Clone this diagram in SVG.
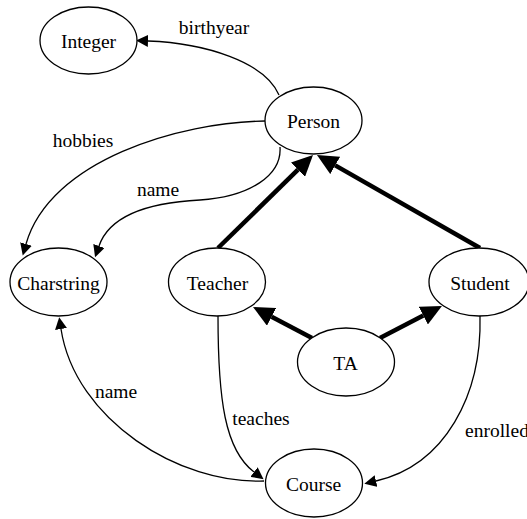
<svg xmlns="http://www.w3.org/2000/svg" width="527" height="519" viewBox="0 0 527 519" font-family="'Liberation Serif', 'DejaVu Serif', serif">
<style>
.node ellipse{fill:#fff;stroke:#000;stroke-width:1.3}
text{font-family:'Liberation Serif','DejaVu Serif',serif;font-size:19.5px;fill:#000;text-anchor:middle}
.e{fill:none;stroke:#000;stroke-width:1.3}
.b{fill:none;stroke:#000;stroke-width:4.5}
</style>
<defs>
<marker id="a" markerUnits="userSpaceOnUse" viewBox="0 0 13 12" markerWidth="13" markerHeight="12" refX="0" refY="6" orient="auto"><path d="M0,0 L12,6 L0,12 z" fill="#000"/></marker>
<marker id="ab" markerUnits="userSpaceOnUse" viewBox="0 0 22 20" markerWidth="22" markerHeight="20" refX="0" refY="10" orient="auto"><path d="M0,0 L21,10 L0,20 z" fill="#000"/></marker>
</defs>
<rect width="527" height="519" fill="#fff"/>
<g id="edges">
<path class="e" d="M279,95 C265,62 205,43 148,41" marker-end="url(#a)"/>
<text x="214" y="34" font-family="Liberation Serif, serif">birthyear</text>
<path class="e" d="M265,121 C180,122 50,160 26,244" marker-end="url(#a)"/>
<text x="83" y="147" font-family="Liberation Serif, serif">hobbies</text>
<path class="e" d="M280,147 C282,175 250,197 200,200 C140,203 108,220 99,246" marker-end="url(#a)"/>
<text x="158" y="196" font-family="Liberation Serif, serif">name</text>
<path class="b" d="M218,248 L298,169.7" marker-end="url(#ab)"/>
<path class="b" d="M480,248 L335.2,165.4" marker-end="url(#ab)"/>
<path class="b" d="M312,338 L271.6,316.8" marker-end="url(#ab)"/>
<path class="b" d="M380,338 L423.3,315.6" marker-end="url(#ab)"/>
<path class="e" d="M218,316 C218,400 225,450 254,472" marker-end="url(#a)"/>
<text x="261" y="425" font-family="Liberation Serif, serif">teaches</text>
<path class="e" d="M264,481 C180,485 75,420 61,329" marker-end="url(#a)"/>
<text x="116" y="398" font-family="Liberation Serif, serif">name</text>
<path class="e" d="M480,316 C482,395 445,465 376,481" marker-end="url(#a)"/>
<text x="465" y="437" font-family="Liberation Serif, serif" style="text-anchor:start">enrolled</text>
</g>
<g id="Integer" class="node"><ellipse cx="88.5" cy="40.5" rx="48.5" ry="33.5"/><text x="88.5" y="48" font-family="Liberation Serif, serif">Integer</text></g>
<g id="Person" class="node"><ellipse cx="313.5" cy="120.5" rx="48.5" ry="33.5"/><text x="313.5" y="128" font-family="Liberation Serif, serif">Person</text></g>
<g id="Charstring" class="node"><ellipse cx="58.5" cy="282" rx="48.5" ry="34"/><text x="58.5" y="289.5" font-family="Liberation Serif, serif">Charstring</text></g>
<g id="Teacher" class="node"><ellipse cx="217" cy="282" rx="48.5" ry="34"/><text x="217.5" y="289.5" font-family="Liberation Serif, serif">Teacher</text></g>
<g id="Student" class="node"><ellipse cx="479" cy="282" rx="50" ry="34"/><text x="480" y="289.5" font-family="Liberation Serif, serif">Student</text></g>
<g id="TA" class="node"><ellipse cx="346" cy="362" rx="48.5" ry="34"/><text x="345.5" y="369.5" font-family="Liberation Serif, serif">TA</text></g>
<g id="Course" class="node"><ellipse cx="314" cy="483" rx="48.5" ry="34"/><text x="313.5" y="490.5" font-family="Liberation Serif, serif">Course</text></g>
</svg>
